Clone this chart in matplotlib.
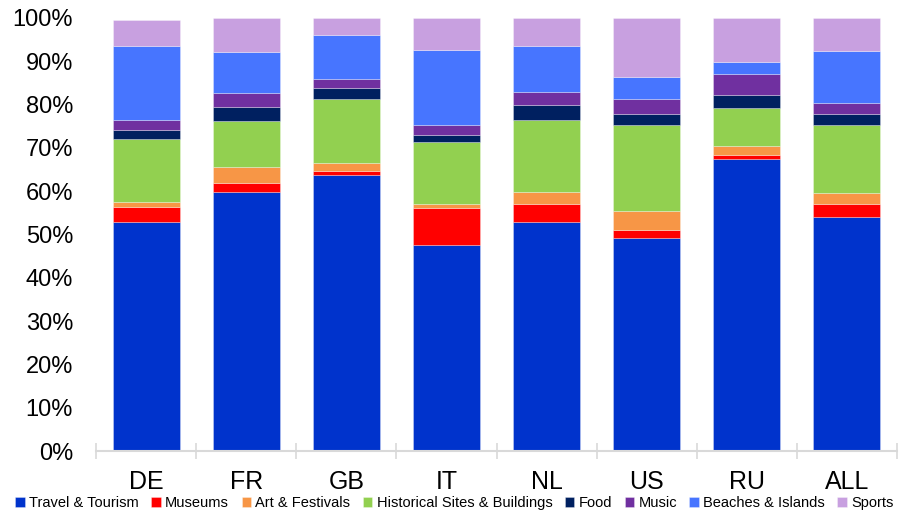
import matplotlib.pyplot as plt
import numpy as np

plt.rcParams['font.family'] = ['Liberation Sans', 'DejaVu Sans']

kraje = ["DE", "FR", "GB", "IT", "NL", "US", "RU", "ALL"]
kategorie = ["Travel & Tourism", "Museums", "Art & Festivals", "Historical Sites & Buildings",
             "Food", "Music", "Beaches & Islands", "Sports"]

# udzial procentowy kazdej kategorii w danym kraju
travel = [53.0, 59.7, 63.8, 47.6, 52.9, 49.3, 67.5, 54.0]
museums = [3.3, 2.2, 0.9, 8.5, 4.2, 1.8, 0.9, 3.1]
art = [1.1, 3.6, 1.9, 0.9, 2.8, 4.4, 2.1, 2.4]
historical = [14.6, 10.6, 14.6, 14.4, 16.5, 19.7, 8.8, 15.7]
food = [2.2, 3.4, 2.7, 1.6, 3.5, 2.7, 3.0, 2.6]
music = [2.2, 3.1, 2.0, 2.4, 3.0, 3.5, 4.8, 2.6]
beaches = [17.2, 9.5, 10.2, 17.1, 10.6, 5.0, 2.7, 12.0]
sports = [6.0, 7.9, 3.9, 7.5, 6.5, 13.6, 10.2, 7.6]

serie = [travel, museums, art, historical, food, music, beaches, sports]
kolory = ["#0033CC", "#FF0000", "#F79646", "#92D050", "#002060", "#7030A0", "#4775FF", "#C8A0E0"]

fig = plt.figure(figsize=(9, 5.12), dpi=100)
ax = fig.add_axes([96 / 900, 1 - 451 / 512, 801 / 900, 433 / 512])

x = np.arange(len(kraje))
dol = np.zeros(len(kraje))
for nazwa, wartosci, kolor in zip(kategorie, serie, kolory):
    ax.bar(x, wartosci, width=0.67, bottom=dol, color=kolor, label=nazwa,
           edgecolor=(1, 1, 1, 0.35), linewidth=0.6)
    dol += np.array(wartosci)

ax.set_xlim(-0.5, len(kraje) - 0.5)
ax.set_ylim(0, 100)
ax.set_yticks(np.arange(0, 101, 10))
ax.set_yticklabels([f"{v}%" for v in range(0, 101, 10)])

# podpisy krajow pod slupkami, kreski osi na granicach kategorii
ax.set_xticks(x)
ax.set_xticklabels(kraje)
ax.set_xticks(np.arange(-0.5, len(kraje)), minor=True)
ax.tick_params(axis='x', which='major', length=0, pad=13.5, labelsize=18)
ax.tick_params(axis='x', which='minor', direction='inout', length=11, width=1.2, color="#D9D9D9")
ax.tick_params(axis='y', length=0, pad=16.5, labelsize=17)

for s in ["top", "right", "left"]:
    ax.spines[s].set_visible(False)
ax.spines["bottom"].set_color("#D9D9D9")
ax.spines["bottom"].set_linewidth(1.5)

fig.legend(loc="lower center", bbox_to_anchor=(0.505, -0.016), ncol=8, frameon=False,
           fontsize=10.5, handlelength=0.65, handleheight=0.65, handletextpad=0.3,
           columnspacing=0.85, borderpad=0.2)

plt.savefig("out.png", dpi=100)
